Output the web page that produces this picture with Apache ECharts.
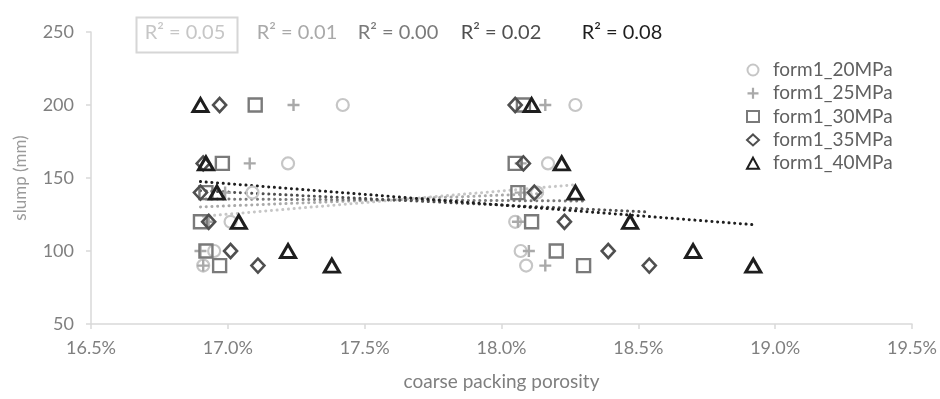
<!DOCTYPE html>
<html>
<head>
<meta charset="utf-8">
<script src="https://cdn.jsdelivr.net/npm/echarts@6/dist/echarts.min.js"></script>
<style>html,body{margin:0;padding:0;background:#fff;}#c{width:940px;height:399px;}</style>
</head>
<body>
<div id="c"></div>
<script>
// ---- data (porosity in %, slump in mm) ----
const seriesNames = ['form1_20MPa', 'form1_25MPa', 'form1_30MPa', 'form1_35MPa', 'form1_40MPa'];
const slump = [200, 160, 140, 120, 100, 90, 200, 160, 140, 120, 100, 90];
const poro20 = [17.42, 17.22, 17.09, 17.01, 16.95, 16.91, 18.27, 18.17, 18.13, 18.05, 18.07, 18.09];
const poro25 = [17.24, 17.08, 16.99, 16.93, 16.90, 16.91, 18.16, 18.07, 18.07, 18.06, 18.10, 18.16];
const poro30 = [17.10, 16.98, 16.92, 16.90, 16.92, 16.97, 18.08, 18.05, 18.06, 18.11, 18.20, 18.30];
const poro35 = [16.97, 16.91, 16.90, 16.93, 17.01, 17.11, 18.05, 18.08, 18.12, 18.23, 18.39, 18.54];
const poro40 = [16.90, 16.92, 16.96, 17.04, 17.22, 17.38, 18.11, 18.22, 18.27, 18.47, 18.70, 18.92];
const r2Labels = ['R² = 0.05', 'R² = 0.01', 'R² = 0.00', 'R² = 0.02', 'R² = 0.08'];
const xTicks = { min: 16.5, max: 19.5, step: 0.5 };
const yTicks = { min: 50, max: 250, step: 50 };

// ---- styles ----
const colors = ['#c6c6c6', '#a9a9a9', '#7a7a7a', '#4f4f4f', '#1e1e1e'];
const FONT = 'Lato';
const plusPath = 'path://M4,0H6V4H10V6H6V10H4V6H0V4H4Z';
const symbols = ['circle', plusPath, 'rect', 'diamond', 'triangle'];
const symbolSizes = [12, 12, 13, [13, 14], [15, 13]];
const borderWidths = [2.2, 0, 2.4, 2.6, 3];
const poros = [poro20, poro25, poro30, poro35, poro40];

function fit(xs, ys) {
  const n = xs.length;
  let mx = 0, my = 0;
  for (let i = 0; i < n; i++) { mx += xs[i]; my += ys[i]; }
  mx /= n; my /= n;
  let sxy = 0, sxx = 0;
  for (let i = 0; i < n; i++) { sxy += (xs[i] - mx) * (ys[i] - my); sxx += (xs[i] - mx) ** 2; }
  const b = sxy / sxx, a = my - b * mx;
  const x0 = Math.min(...xs), x1 = Math.max(...xs);
  return [[x0, a + b * x0], [x1, a + b * x1]];
}

const series = [];
// trendlines first (drawn under markers)
poros.forEach((xs, k) => {
  series.push({
    name: 'trend_' + seriesNames[k], type: 'line', data: fit(xs, slump),
    showSymbol: false, silent: true, z: 1,
    lineStyle: { color: colors[k], width: 3, type: [0.1, 5.6], cap: 'round' }
  });
});
poros.forEach((xs, k) => {
  const isPlus = k === 1;
  series.push({
    name: seriesNames[k], type: 'scatter', z: 2 + k,
    data: xs.map((x, i) => [x, slump[i]]),
    symbol: symbols[k], symbolSize: symbolSizes[k],
    itemStyle: isPlus ? { color: colors[k], borderWidth: 0, opacity: 1 }
                      : { color: 'rgba(255,255,255,0)', borderColor: colors[k], borderWidth: borderWidths[k], opacity: 1 }
  });
});

const r2X = [185, 297, 398, 501, 622];
const graphics = [{
  type: 'rect', left: 134, top: 15, shape: { width: 101, height: 35 },
  style: { fill: 'none', stroke: '#d6d6d6', lineWidth: 2 }
}];
r2Labels.forEach((t, k) => {
  graphics.push({
    type: 'text', x: r2X[k], y: 33,
    style: { text: t, fill: colors[k], font: '20px ' + FONT, textAlign: 'center', textVerticalAlign: 'middle' }
  });
});

const chart = echarts.init(document.getElementById('c'), null, { renderer: 'canvas' });
chart.setOption({
  animation: false,
  backgroundColor: '#fff',
  textStyle: { fontFamily: FONT },
  grid: { left: 91, right: 27, top: 32, bottom: 75 },
  xAxis: {
    type: 'value', min: xTicks.min, max: xTicks.max, interval: xTicks.step,
    name: 'coarse packing porosity', nameLocation: 'middle', nameGap: 48,
    nameTextStyle: { color: '#7f7f7f', fontSize: 19, fontFamily: FONT },
    axisLine: { show: true, lineStyle: { color: '#d9d9d9', width: 1.5 } },
    axisTick: { show: true, length: 5, lineStyle: { color: '#d9d9d9', width: 1.5 } },
    axisLabel: { color: '#7f7f7f', fontSize: 18, margin: 15, fontFamily: FONT,
      formatter: v => v.toFixed(1) + '%' },
    splitLine: { show: false }
  },
  yAxis: {
    type: 'value', min: yTicks.min, max: yTicks.max, interval: yTicks.step,
    name: 'slump (mm)', nameLocation: 'middle', nameGap: 62, nameRotate: 90,
    nameTextStyle: { color: '#9a9a9a', fontSize: 17, fontFamily: FONT },
    axisLine: { show: true, lineStyle: { color: '#d9d9d9', width: 1.5 } },
    axisTick: { show: true, length: 5, lineStyle: { color: '#d9d9d9', width: 1.5 } },
    axisLabel: { color: '#7f7f7f', fontSize: 18, margin: 17, fontFamily: FONT },
    splitLine: { show: false }
  },
  legend: {
    data: seriesNames, orient: 'vertical', left: 741, top: 55,
    itemWidth: 12, itemHeight: 11, itemGap: 3.3,
    textStyle: { color: '#606060', fontSize: 19, lineHeight: 20, fontFamily: FONT, padding: [0, 0, 0, 9] }
  },
  graphic: graphics,
  series: series
});
</script>
</body>
</html>
